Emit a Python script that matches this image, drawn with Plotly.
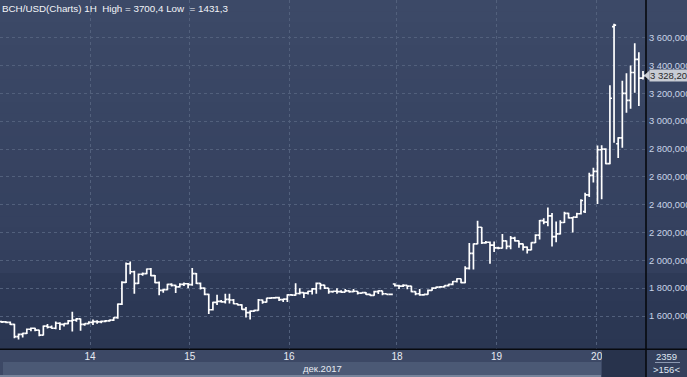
import plotly.graph_objects as go

# ---------------- data ----------------
title_text = "BCH/USD(Charts) 1H  High = 3700,4 Low  = 1431,3"

opens = [1560, 1558, 1555, 1540, 1452, 1468, 1475, 1505, 1512, 1498,
         1462, 1528, 1520, 1512, 1548, 1540, 1545, 1565, 1570, 1580,
         1540, 1545, 1555, 1560, 1558, 1562, 1565, 1570, 1588, 1685,
         1842, 1975, 1918, 1835, 1900, 1905, 1938, 1890, 1840, 1785,
         1790, 1828, 1820, 1810, 1828, 1832, 1825, 1905, 1835, 1800,
         1755, 1645, 1698, 1705, 1702, 1720, 1715, 1688, 1680, 1648,
         1625, 1635, 1640, 1715, 1700, 1728, 1730, 1732, 1718, 1722,
         1752, 1750, 1762, 1768, 1765, 1778, 1795, 1835, 1822, 1800,
         1775, 1778, 1775, 1772, 1780, 1775, 1778, 1765, 1768, 1755,
         1748, 1775, 1780, 1760, 1755, 1830, 1818, 1815, 1820, 1815,
         1775, 1760, 1752, 1755, 1785, 1800, 1808, 1810, 1818, 1828,
         1848, 1868, 1840, 1942, 2050, 2118, 2238, 2125, 2130, 2110,
         2090, 2088, 2140, 2100, 2160, 2140, 2118, 2095, 2075, 2128,
         2182, 2285, 2275, 2320, 2170, 2190, 2272, 2338, 2305, 2310,
         2335, 2350, 2470, 2610, 2640, 2795, 2800, 2695, 3680, 2838,
         2880, 3200, 3150, 3350, 3445, 3310]
highs = [1565, 1562, 1560, 1545, 1475, 1480, 1510, 1518, 1515, 1502,
         1532, 1542, 1532, 1560, 1556, 1548, 1572, 1630, 1585, 1582,
         1548, 1562, 1575, 1570, 1568, 1572, 1575, 1592, 1690, 1850,
         1985, 1992, 1925, 1905, 1912, 1942, 1945, 1895, 1848, 1795,
         1832, 1835, 1825, 1835, 1840, 1838, 1945, 1910, 1840, 1805,
         1760, 1702, 1752, 1715, 1760, 1760, 1722, 1690, 1684, 1665,
         1640, 1645, 1722, 1718, 1732, 1734, 1735, 1738, 1725, 1757,
         1758, 1835, 1800, 1770, 1782, 1802, 1840, 1838, 1824, 1802,
         1782, 1800, 1785, 1795, 1784, 1795, 1780, 1770, 1772, 1760,
         1782, 1785, 1782, 1762, 1758, 1835, 1825, 1828, 1822, 1818,
         1778, 1795, 1758, 1790, 1806, 1812, 1815, 1822, 1832, 1852,
         1872, 1870, 1958, 2125, 2122, 2285, 2240, 2140, 2135, 2135,
         2098, 2190, 2142, 2175, 2170, 2142, 2122, 2100, 2130, 2188,
         2290, 2302, 2380, 2340, 2280, 2288, 2350, 2342, 2312, 2342,
         2440, 2485, 2630, 2665, 2825, 2828, 2805, 3258, 3700.4, 2885,
         3290, 3345, 3400, 3560, 3495, 3360]
lows = [1550, 1548, 1535, 1440, 1431.3, 1445, 1470, 1490, 1490, 1455,
        1460, 1510, 1508, 1505, 1500, 1525, 1540, 1488, 1558, 1495,
        1530, 1540, 1535, 1545, 1548, 1555, 1558, 1565, 1580, 1680,
        1838, 1900, 1760, 1830, 1890, 1900, 1885, 1835, 1750, 1768,
        1785, 1812, 1765, 1805, 1815, 1800, 1818, 1830, 1790, 1750,
        1615, 1640, 1680, 1698, 1690, 1690, 1685, 1675, 1645, 1590,
        1575, 1630, 1638, 1688, 1698, 1722, 1725, 1708, 1700, 1700,
        1745, 1745, 1755, 1730, 1755, 1755, 1760, 1790, 1795, 1760,
        1768, 1760, 1768, 1770, 1768, 1770, 1755, 1760, 1752, 1745,
        1745, 1758, 1750, 1752, 1752, 1812, 1795, 1808, 1792, 1770,
        1750, 1745, 1745, 1752, 1782, 1798, 1805, 1805, 1812, 1822,
        1840, 1835, 1835, 1935, 1935, 2115, 2118, 2120, 1975, 2060,
        2080, 2085, 2080, 2080, 2135, 2090, 2070, 2050, 2072, 2125,
        2150, 2260, 2245, 2100, 2130, 2185, 2268, 2300, 2200, 2305,
        2330, 2340, 2455, 2560, 2405, 2440, 2690, 2690, 2845, 2735,
        2810, 3060, 3090, 3205, 3110, 3300]
closes = [1558, 1555, 1540, 1452, 1468, 1475, 1505, 1512, 1498, 1462,
          1528, 1520, 1512, 1548, 1540, 1545, 1565, 1570, 1580, 1540,
          1545, 1555, 1560, 1558, 1562, 1565, 1570, 1588, 1685, 1842,
          1975, 1918, 1835, 1900, 1905, 1938, 1890, 1840, 1785, 1790,
          1828, 1820, 1810, 1828, 1832, 1825, 1905, 1835, 1800, 1755,
          1645, 1698, 1705, 1702, 1720, 1715, 1688, 1680, 1648, 1625,
          1635, 1640, 1715, 1700, 1728, 1730, 1732, 1718, 1722, 1752,
          1750, 1762, 1768, 1765, 1778, 1795, 1835, 1822, 1800, 1775,
          1778, 1775, 1772, 1780, 1775, 1778, 1765, 1768, 1755, 1748,
          1775, 1780, 1760, 1755, 1756, 1818, 1815, 1820, 1815, 1775,
          1760, 1752, 1755, 1785, 1800, 1808, 1810, 1818, 1828, 1848,
          1868, 1840, 1942, 2050, 2118, 2238, 2125, 2130, 2110, 2090,
          2088, 2140, 2100, 2160, 2140, 2118, 2095, 2075, 2128, 2182,
          2285, 2275, 2320, 2170, 2190, 2272, 2338, 2305, 2310, 2335,
          2430, 2470, 2610, 2640, 2795, 2800, 2695, 3165, 3690, 2880,
          3200, 3150, 3350, 3445, 3310, 3328.2]

day_positions = [21.3, 45.4, 69.4, 95.5, 119.6, 143.8]
day_labels = ["14", "15", "16", "18", "19", "20"]
price_ticks = [1600, 1800, 2000, 2200, 2400, 2600, 2800, 3000, 3200, 3400, 3600]
price_tick_labels = ["1 600,000", "1 800,000", "2 000,000", "2 200,000", "2 400,000",
                     "2 600,000", "2 800,000", "3 000,000", "3 200,000", "3 400,000",
                     "3 600,000"]
month_label = "дек.2017"
last_price_label = "3 328,20"
time_label = "2359"
bar_count_label = ">156<"

# ---------------- layout helpers ----------------
W, H = 687, 377
PW, PH = 646, 349
FONT = "Liberation Sans, Arial, sans-serif"


def fx(px):
    return px / PW


def fy(py):
    return 1 - py / PH


def hex2rgb(h):
    h = h.lstrip("#")
    return tuple(int(h[i:i + 2], 16) for i in (0, 2, 4))


def mix(c1, c2, t):
    a, b = hex2rgb(c1), hex2rgb(c2)
    return "rgb(%d,%d,%d)" % tuple(round(a[i] + (b[i] - a[i]) * t) for i in range(3))


shapes = []
# background gradient (plot + right axis area)
segments = [(0, 273, "#3c4967", "#333f5d", 24), (273, 349, "#2e3a57", "#2a3652", 8)]
for y0, y1, c0, c1, n in segments:
    step = (y1 - y0) / n
    for k in range(n):
        a = y0 + k * step
        b = a + step + 0.6
        shapes.append(dict(type="rect", xref="paper", yref="paper",
                           x0=fx(0), x1=fx(W), y0=fy(min(b, y1)), y1=fy(a),
                           fillcolor=mix(c0, c1, k / max(n - 1, 1)),
                           line=dict(width=0), layer="below"))
# date band
shapes.append(dict(type="rect", xref="paper", yref="paper", x0=fx(3), x1=fx(601),
                   y0=fy(375), y1=fy(362), fillcolor="#4b5975", line=dict(width=0), layer="below"))
shapes.append(dict(type="rect", xref="paper", yref="paper", x0=fx(0), x1=fx(601),
                   y0=fy(377), y1=fy(375), fillcolor="#77849b", line=dict(width=0), layer="below"))
# dark box bottom right of plot
shapes.append(dict(type="rect", xref="paper", yref="paper", x0=fx(602), x1=fx(646),
                   y0=fy(377), y1=fy(350), fillcolor="#28334c", line=dict(width=0), layer="above"))
# right lower panel
shapes.append(dict(type="rect", xref="paper", yref="paper", x0=fx(646), x1=fx(W),
                   y0=fy(377), y1=fy(349), fillcolor="#34405c", line=dict(width=0), layer="below"))
# separator line under time label
shapes.append(dict(type="line", xref="paper", yref="paper", x0=fx(655), x1=fx(680),
                   y0=fy(362.5), y1=fy(362.5), line=dict(color="#8b98b0", width=1), layer="above"))
# black frame lines
shapes.append(dict(type="line", xref="paper", yref="paper", x0=fx(646), x1=fx(646),
                   y0=fy(377), y1=fy(0), line=dict(color="#07090e", width=1.6), layer="above"))
shapes.append(dict(type="line", xref="paper", yref="paper", x0=fx(0), x1=fx(W),
                   y0=fy(349.3), y1=fy(349.3), line=dict(color="#07090e", width=1.6), layer="above"))
# price marker arrow
shapes.append(dict(type="path", xref="paper", yref="paper",
                   path="M %f %f L %f %f L %f %f Z" % (fx(644), fy(75.5), fx(649.5), fy(70.5),
                                                       fx(649.5), fy(80.5)),
                   fillcolor="#c8ccd4", line=dict(width=0), layer="above"))

annotations = [
    dict(text=title_text, xref="paper", yref="paper", x=fx(0), y=fy(1), xanchor="left",
         yanchor="top", showarrow=False, font=dict(family=FONT, size=9.8, color="#f2f4f8")),
    dict(text=month_label, xref="paper", yref="paper", x=fx(344), y=fy(368.5), xanchor="right",
         yanchor="middle", showarrow=False, font=dict(family=FONT, size=9.5, color="#e8ecf3")),
    dict(text=last_price_label, xref="paper", yref="paper", x=fx(649), y=fy(75.5), xanchor="left",
         yanchor="middle", showarrow=False, bgcolor="#c8ccd4", borderpad=0,
         font=dict(family=FONT, size=9.5, color="#2a2a2a")),
    dict(text=time_label, xref="paper", yref="paper", x=fx(666), y=fy(356), xanchor="center",
         yanchor="middle", showarrow=False, font=dict(family=FONT, size=9.5, color="#dfe6f2")),
    dict(text=bar_count_label, xref="paper", yref="paper", x=fx(666), y=fy(369.5), xanchor="center",
         yanchor="middle", showarrow=False, font=dict(family=FONT, size=9.5, color="#dfe6f2")),
]

n = len(opens)
x_vals = list(range(n))
px_per_bar = 641 / (n - 1)

fig = go.Figure(go.Ohlc(
    x=x_vals, open=opens, high=highs, low=lows, close=closes,
    increasing=dict(line=dict(color="#ffffff", width=1.7)),
    decreasing=dict(line=dict(color="#ffffff", width=1.7)),
    tickwidth=0.5, hoverinfo="skip", showlegend=False,
))

fig.update_layout(
    width=W, height=H,
    margin=dict(l=0, r=W - PW, t=0, b=H - PH, pad=0, autoexpand=False),
    paper_bgcolor="#3c4865",
    plot_bgcolor="rgba(0,0,0,0)",
    shapes=shapes,
    annotations=annotations,
    showlegend=False,
    xaxis=dict(
        range=[-2 / px_per_bar, (n - 1) + 3 / px_per_bar],
        tickvals=day_positions, ticktext=day_labels,
        showgrid=True, gridcolor="#52607c", griddash="3px,3px", gridwidth=1,
        zeroline=False, showline=False, ticks="", automargin=False,
        tickfont=dict(family=FONT, size=10, color="#e8ecf3"),
        rangeslider=dict(visible=False), fixedrange=True,
    ),
    yaxis=dict(
        range=[1363, 3871], side="right",
        tickvals=price_ticks, ticktext=price_tick_labels,
        showgrid=True, gridcolor="#52607c", griddash="3px,3px", gridwidth=1,
        zeroline=False, showline=False, ticks="", automargin=False,
        ticklabelstandoff=2, ticklabeloverflow="allow",
        tickfont=dict(family=FONT, size=9.3, color="#c9d4e8"),
        fixedrange=True,
    ),
)

fig.write_html("out.html", config={"displayModeBar": False},
               post_script="document.body.style.margin='0';document.body.style.overflow='hidden';")
